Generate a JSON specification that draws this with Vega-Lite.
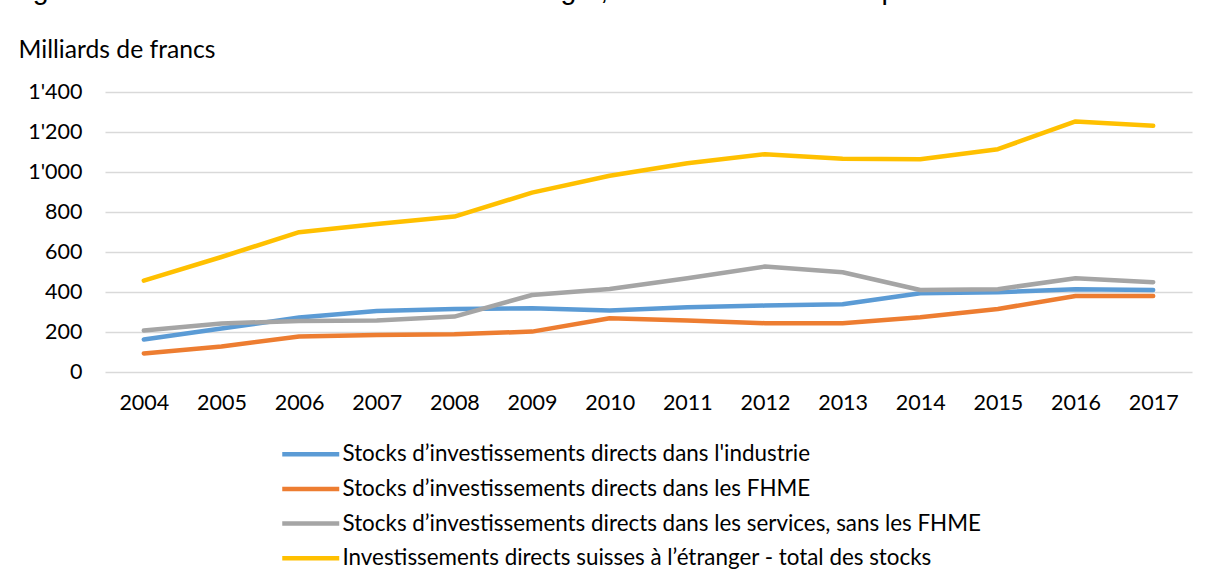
{
  "$schema": "https://vega.github.io/schema/vega-lite/v6.json",
  "width": 1087,
  "height": 280,
  "autosize": {"type": "none"},
  "padding": {"left": 105, "top": 92, "right": 15, "bottom": 210},
  "background": "white",
  "title": {
    "text": "Figure 15 : Investissements directs à l’étranger, évolution des stocks par branches",
    "anchor": "start",
    "frame": "group",
    "dx": -96,
    "dy": 1,
    "offset": 10,
    "font": "Liberation Sans",
    "fontSize": 28.6,
    "fontWeight": "normal",
    "color": "#000000",
    "baseline": "alphabetic"
  },
  "data": {
    "values": [
      {"annee": "2004", "serie": "Stocks d’investissements directs dans l'industrie", "valeur": 163},
      {"annee": "2005", "serie": "Stocks d’investissements directs dans l'industrie", "valeur": 217},
      {"annee": "2006", "serie": "Stocks d’investissements directs dans l'industrie", "valeur": 272},
      {"annee": "2007", "serie": "Stocks d’investissements directs dans l'industrie", "valeur": 305},
      {"annee": "2008", "serie": "Stocks d’investissements directs dans l'industrie", "valeur": 315},
      {"annee": "2009", "serie": "Stocks d’investissements directs dans l'industrie", "valeur": 319},
      {"annee": "2010", "serie": "Stocks d’investissements directs dans l'industrie", "valeur": 307},
      {"annee": "2011", "serie": "Stocks d’investissements directs dans l'industrie", "valeur": 324},
      {"annee": "2012", "serie": "Stocks d’investissements directs dans l'industrie", "valeur": 332},
      {"annee": "2013", "serie": "Stocks d’investissements directs dans l'industrie", "valeur": 339},
      {"annee": "2014", "serie": "Stocks d’investissements directs dans l'industrie", "valeur": 394},
      {"annee": "2015", "serie": "Stocks d’investissements directs dans l'industrie", "valeur": 399},
      {"annee": "2016", "serie": "Stocks d’investissements directs dans l'industrie", "valeur": 414},
      {"annee": "2017", "serie": "Stocks d’investissements directs dans l'industrie", "valeur": 410},
      {"annee": "2004", "serie": "Stocks d’investissements directs dans les FHME", "valeur": 93},
      {"annee": "2005", "serie": "Stocks d’investissements directs dans les FHME", "valeur": 128},
      {"annee": "2006", "serie": "Stocks d’investissements directs dans les FHME", "valeur": 177},
      {"annee": "2007", "serie": "Stocks d’investissements directs dans les FHME", "valeur": 185},
      {"annee": "2008", "serie": "Stocks d’investissements directs dans les FHME", "valeur": 189},
      {"annee": "2009", "serie": "Stocks d’investissements directs dans les FHME", "valeur": 202},
      {"annee": "2010", "serie": "Stocks d’investissements directs dans les FHME", "valeur": 269},
      {"annee": "2011", "serie": "Stocks d’investissements directs dans les FHME", "valeur": 257},
      {"annee": "2012", "serie": "Stocks d’investissements directs dans les FHME", "valeur": 244},
      {"annee": "2013", "serie": "Stocks d’investissements directs dans les FHME", "valeur": 244},
      {"annee": "2014", "serie": "Stocks d’investissements directs dans les FHME", "valeur": 274},
      {"annee": "2015", "serie": "Stocks d’investissements directs dans les FHME", "valeur": 315},
      {"annee": "2016", "serie": "Stocks d’investissements directs dans les FHME", "valeur": 380},
      {"annee": "2017", "serie": "Stocks d’investissements directs dans les FHME", "valeur": 380},
      {"annee": "2004", "serie": "Stocks d’investissements directs dans les services, sans les FHME", "valeur": 207},
      {"annee": "2005", "serie": "Stocks d’investissements directs dans les services, sans les FHME", "valeur": 243},
      {"annee": "2006", "serie": "Stocks d’investissements directs dans les services, sans les FHME", "valeur": 255},
      {"annee": "2007", "serie": "Stocks d’investissements directs dans les services, sans les FHME", "valeur": 257},
      {"annee": "2008", "serie": "Stocks d’investissements directs dans les services, sans les FHME", "valeur": 277},
      {"annee": "2009", "serie": "Stocks d’investissements directs dans les services, sans les FHME", "valeur": 385},
      {"annee": "2010", "serie": "Stocks d’investissements directs dans les services, sans les FHME", "valeur": 415},
      {"annee": "2011", "serie": "Stocks d’investissements directs dans les services, sans les FHME", "valeur": 469},
      {"annee": "2012", "serie": "Stocks d’investissements directs dans les services, sans les FHME", "valeur": 527},
      {"annee": "2013", "serie": "Stocks d’investissements directs dans les services, sans les FHME", "valeur": 499},
      {"annee": "2014", "serie": "Stocks d’investissements directs dans les services, sans les FHME", "valeur": 410},
      {"annee": "2015", "serie": "Stocks d’investissements directs dans les services, sans les FHME", "valeur": 414},
      {"annee": "2016", "serie": "Stocks d’investissements directs dans les services, sans les FHME", "valeur": 469},
      {"annee": "2017", "serie": "Stocks d’investissements directs dans les services, sans les FHME", "valeur": 449},
      {"annee": "2004", "serie": "Investissements directs suisses à l’étranger - total des stocks", "valeur": 457},
      {"annee": "2005", "serie": "Investissements directs suisses à l’étranger - total des stocks", "valeur": 575},
      {"annee": "2006", "serie": "Investissements directs suisses à l’étranger - total des stocks", "valeur": 699},
      {"annee": "2007", "serie": "Investissements directs suisses à l’étranger - total des stocks", "valeur": 740},
      {"annee": "2008", "serie": "Investissements directs suisses à l’étranger - total des stocks", "valeur": 777},
      {"annee": "2009", "serie": "Investissements directs suisses à l’étranger - total des stocks", "valeur": 897},
      {"annee": "2010", "serie": "Investissements directs suisses à l’étranger - total des stocks", "valeur": 981},
      {"annee": "2011", "serie": "Investissements directs suisses à l’étranger - total des stocks", "valeur": 1044},
      {"annee": "2012", "serie": "Investissements directs suisses à l’étranger - total des stocks", "valeur": 1089},
      {"annee": "2013", "serie": "Investissements directs suisses à l’étranger - total des stocks", "valeur": 1066},
      {"annee": "2014", "serie": "Investissements directs suisses à l’étranger - total des stocks", "valeur": 1064},
      {"annee": "2015", "serie": "Investissements directs suisses à l’étranger - total des stocks", "valeur": 1114},
      {"annee": "2016", "serie": "Investissements directs suisses à l’étranger - total des stocks", "valeur": 1253},
      {"annee": "2017", "serie": "Investissements directs suisses à l’étranger - total des stocks", "valeur": 1231}
    ]
  },
  "mark": {"type": "line", "strokeWidth": 4.5, "strokeCap": "round", "strokeJoin": "round"},
  "encoding": {
    "x": {
      "field": "annee",
      "type": "ordinal",
      "scale": {"padding": 0.5},
      "axis": {
        "title": null,
        "labelAngle": 0,
        "ticks": false,
        "tickSize": 0,
        "domain": false,
        "grid": false,
        "labelPadding": 20,
        "labelFont": "Lato",
        "labelFontSize": 21.5,
        "labelColor": "#000000"
      }
    },
    "y": {
      "field": "valeur",
      "type": "quantitative",
      "scale": {"domain": [0, 1400], "nice": false},
      "axis": {
        "values": [0, 200, 400, 600, 800, 1000, 1200, 1400],
        "labelExpr": "replace(format(datum.value, ','), ',', \"'\")",
        "ticks": false,
        "tickSize": 0,
        "domain": false,
        "grid": true,
        "gridColor": "#d9d9d9",
        "gridWidth": 1.5,
        "labelPadding": 23,
        "labelFont": "Lato",
        "labelFontSize": 21.5,
        "labelColor": "#000000",
        "title": "Milliards de francs",
        "titleAngle": 0,
        "titleAlign": "left",
        "titleBaseline": "alphabetic",
        "titleX": -87,
        "titleY": -35,
        "titleFont": "Lato",
        "titleFontSize": 24.7,
        "titleFontWeight": "normal",
        "titleColor": "#000000"
      }
    },
    "color": {
      "field": "serie",
      "type": "nominal",
      "scale": {
        "domain": [
          "Stocks d’investissements directs dans l'industrie",
          "Stocks d’investissements directs dans les FHME",
          "Stocks d’investissements directs dans les services, sans les FHME",
          "Investissements directs suisses à l’étranger - total des stocks"
        ],
        "range": ["#5B9BD5", "#ED7D31", "#A5A5A5", "#FFC000"]
      },
      "legend": {
        "title": null,
        "orient": "none",
        "legendX": 175,
        "legendY": 345.7,
        "direction": "vertical",
        "symbolType": "M-1,0H3",
        "symbolSize": 812,
        "symbolStrokeWidth": 4.5,
        "symbolStrokeCap": "round",
        "labelFont": "Lato",
        "labelFontSize": 22.4,
        "labelColor": "#000000",
        "labelLimit": 0,
        "labelOffset": 29.5,
        "rowPadding": 6.7
      }
    }
  },
  "config": {"view": {"stroke": null}}
}
